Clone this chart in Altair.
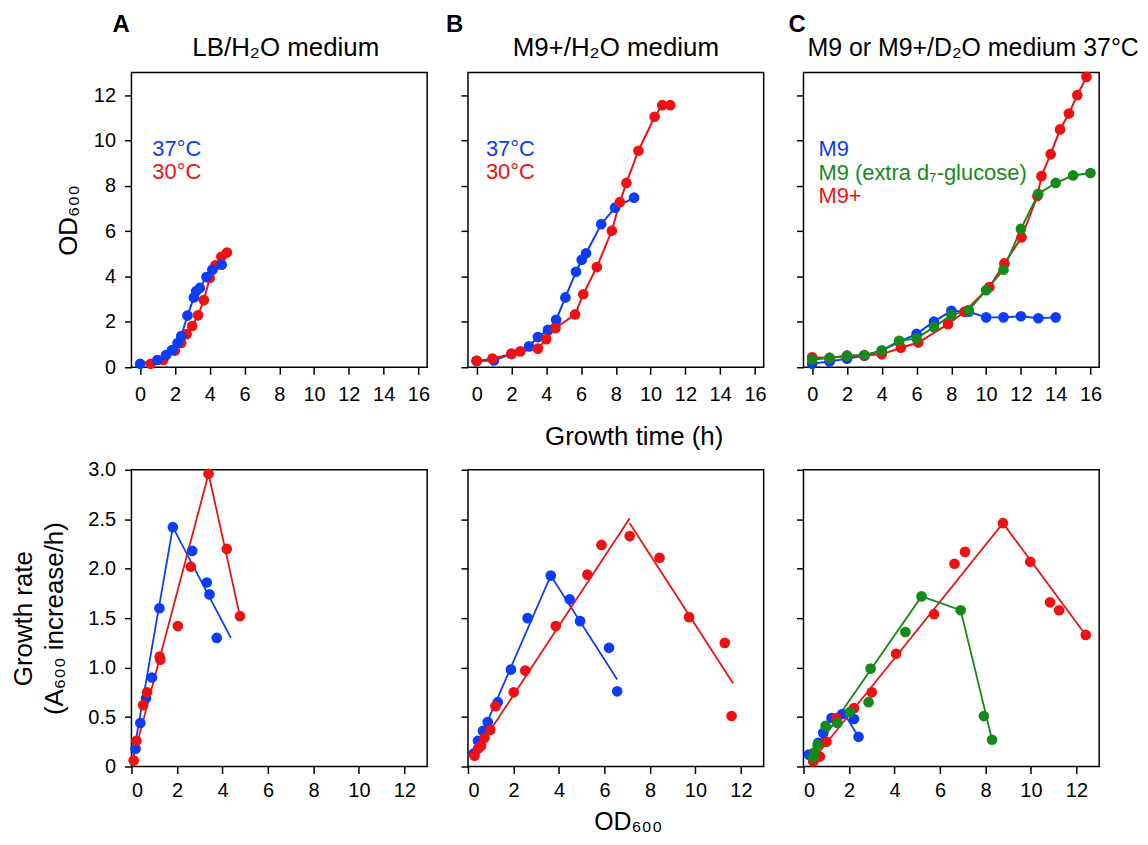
import altair as alt
import pandas as pd

FONT = "Liberation Sans"
BLUE = "#0b3cf7"
RED = "#ee1111"
GREEN = "#148a1a"

# ---------------- Top row: OD600 vs growth time (h) ----------------
a_blue_t = [0, 0.99, 1.49, 1.83, 2.15, 2.36, 2.72, 3.09, 3.22, 3.43, 3.81, 4.15, 4.69]
a_blue_od = [0.15, 0.32, 0.54, 0.76, 1.07, 1.37, 2.28, 3.08, 3.35, 3.5, 3.98, 4.30, 4.52]
a_red_t = [0.61, 1.33, 2.0, 2.36, 2.67, 2.99, 3.33, 3.66, 4.0, 4.32, 4.67, 4.99]
a_red_od = [0.15, 0.32, 0.73, 1.07, 1.46, 1.82, 2.29, 2.96, 3.94, 4.49, 4.87, 5.06]

b_blue_t = [0, 0.99, 2.0, 3.01, 3.52, 4.1, 4.57, 5.1, 5.71, 6.04, 6.29, 7.16, 7.96, 9.05]
b_blue_od = [0.28, 0.3, 0.59, 0.92, 1.33, 1.65, 2.09, 3.08, 4.21, 4.74, 5.03, 6.31, 7.04, 7.48]
b_red_t = [0, 0.91, 2.0, 2.51, 3.52, 4.0, 4.53, 5.66, 6.13, 6.91, 7.77, 8.23, 8.61, 9.3,
           10.23, 10.67, 11.13]
b_red_od = [0.28, 0.38, 0.59, 0.7, 0.82, 1.24, 1.72, 2.33, 3.22, 4.42, 6.02, 7.28, 8.13, 9.55,
            11.05, 11.56, 11.56]

c_blue_t = [0, 1, 2, 3, 4, 5, 6, 7, 8, 9, 10, 11, 12, 13, 14]
c_blue_od = [0.16, 0.25, 0.38, 0.51, 0.74, 1.12, 1.47, 2.01, 2.49, 2.45, 2.2, 2.2, 2.25, 2.16, 2.2]
c_green_t = [0, 1, 2, 3, 4, 5, 6, 7, 8, 9, 10, 11, 12, 13, 14, 15, 16]
c_green_od = [0.34, 0.41, 0.51, 0.54, 0.73, 1.17, 1.27, 1.77, 2.3, 2.52, 3.4, 4.3, 6.1, 7.65,
              8.13, 8.46, 8.57]
c_red_t = [0, 1, 2, 3, 4, 5.1, 6.1, 7.81, 8.76, 10.19, 11.05, 12.04, 12.95, 13.18, 13.71,
           14.25, 14.76, 15.24, 15.77]
c_red_od = [0.44, 0.41, 0.51, 0.52, 0.57, 0.86, 1.09, 1.9, 2.45, 3.54, 4.58, 5.73, 7.55, 8.43,
            9.4, 10.49, 11.19, 12.0, 12.81]

# ---------------- Bottom row: growth rate vs OD600 ----------------
ba_blue_x = [0.18, 0.39, 0.64, 0.9, 1.23, 1.82, 2.67, 3.31, 3.43, 3.75]
ba_blue_y = [0.18, 0.44, 0.69, 0.9, 1.6, 2.42, 2.18, 1.86, 1.74, 1.3]
ba_red_x = [0.1, 0.22, 0.51, 0.69, 1.24, 1.27, 2.04, 2.61, 3.39, 4.19, 4.77]
ba_red_y = [0.06, 0.26, 0.62, 0.75, 1.11, 1.08, 1.42, 2.02, 2.96, 2.2, 1.52]
ba_fit_blue_x = [0.07, 1.82, 4.37]
ba_fit_blue_y = [0.1, 2.42, 1.30]
ba_fit_red_x = [0.04, 3.39, 4.77]
ba_fit_red_y = [0.05, 2.96, 1.52]

bb_blue_x = [0.25, 0.44, 0.66, 0.87, 1.31, 1.89, 2.62, 3.64, 4.47, 4.93, 6.2, 6.56]
bb_blue_y = [0.13, 0.26, 0.36, 0.45, 0.65, 0.98, 1.5, 1.93, 1.69, 1.47, 1.2, 0.76]
bb_red_x = [0.29, 0.44, 0.58, 0.73, 0.98, 1.21, 2.01, 2.52, 3.86, 5.25, 5.87, 7.11, 8.42,
            9.72, 11.29, 11.59]
bb_red_y = [0.11, 0.18, 0.21, 0.29, 0.37, 0.61, 0.75, 0.97, 1.42, 1.94, 2.24, 2.33, 2.11,
            1.51, 1.25, 0.51]
bb_fit_blue_x = [0.22, 3.64, 6.56]
bb_fit_blue_y = [0.12, 1.93, 0.88]
bb_fit_red_up_x = [0.22, 7.11]
bb_fit_red_up_y = [0.1, 2.51]
bb_fit_red_down_x = [7.11, 11.66]
bb_fit_red_down_y = [2.46, 0.84]

bc_blue_x = [0.24, 0.65, 0.87, 1.23, 1.7, 2.22, 2.42]
bc_blue_y = [0.12, 0.24, 0.34, 0.49, 0.53, 0.48, 0.3]
bc_green_x = [0.43, 0.47, 0.62, 0.97, 1.49, 2.04, 2.86, 2.95, 4.48, 5.19, 6.91, 7.93, 8.29]
bc_green_y = [0.09, 0.14, 0.22, 0.41, 0.44, 0.55, 0.65, 0.99, 1.36, 1.72, 1.58, 0.51, 0.27]
bc_red_x = [0.43, 0.58, 0.72, 1.01, 1.45, 2.22, 3.0, 4.07, 5.74, 6.64, 7.1, 8.77, 9.97,
            10.84, 11.24, 12.41]
bc_red_y = [0.05, 0.09, 0.1, 0.25, 0.49, 0.59, 0.75, 1.14, 1.54, 2.05, 2.17, 2.46, 2.07,
            1.66, 1.58, 1.33]
bc_fit_blue_x = [0.24, 1.75, 2.42]
bc_fit_blue_y = [0.12, 0.55, 0.3]
bc_fit_green_x = [0.28, 5.19, 6.91, 8.29]
bc_fit_green_y = [0.09, 1.72, 1.58, 0.27]
bc_fit_red_x = [0.36, 8.77, 12.41]
bc_fit_red_y = [0.05, 2.46, 1.33]

SERIES = ["blue", "red", "green"]
COLORS = [BLUE, RED, GREEN]
color_enc = alt.Color("s:N", scale=alt.Scale(domain=SERIES, range=COLORS), legend=None)

W = 297
H_TOP = 296
H_BOT = 298
PT = 115


def frame(parts):
    rows = []
    for i, (name, xs, ys, seg) in enumerate(parts):
        for k, (xv, yv) in enumerate(zip(xs, ys)):
            rows.append({"s": name, "seg": f"{name}{seg}", "x": xv, "y": yv, "o": i * 1000 + k})
    return pd.DataFrame(rows)


def text_layer(items):
    layers = []
    for txt, x, y, color, size, weight, align, op in items:
        layers.append(
            alt.Chart(pd.DataFrame({"t": [txt]})).mark_text(
                align=align, baseline="alphabetic", font=FONT, fontSize=size,
                fontWeight=weight, color=color, opacity=op
            ).encode(x=alt.value(x), y=alt.value(y), text="t:N")
        )
    return layers


def top_panel(parts, show_y, xtitle, texts):
    df = frame(parts)
    xs = alt.Scale(domain=[-0.5, 16.5], nice=False, zero=False)
    ys = alt.Scale(domain=[0, 13], nice=False)
    xaxis = alt.Axis(values=list(range(0, 17, 2)), tickSize=7, labelPadding=10,
                     title=xtitle if xtitle else None, titlePadding=20,
                     **({"titleX": W / 2 + 18} if xtitle else {}))
    yaxis = alt.Axis(values=list(range(0, 13, 2)), tickSize=7, labelPadding=9,
                     labels=show_y, title="OD₆₀₀" if show_y else None, titlePadding=12)
    base = alt.Chart(df).encode(
        x=alt.X("x:Q", scale=xs, axis=xaxis),
        y=alt.Y("y:Q", scale=ys, axis=yaxis),
        color=color_enc,
    )
    lines = base.mark_line(strokeWidth=2).encode(detail="seg:N", order="o:Q")
    pts = base.mark_circle(size=PT, opacity=1).encode(order="o:Q")
    return alt.layer(lines, pts, *text_layer(texts)).properties(width=W, height=H_TOP)


def bot_panel(pts_parts, fit_parts, show_y, xtitle, title_dx=0):
    dpts = frame(pts_parts)
    dfit = frame(fit_parts)
    xs = alt.Scale(domain=[0, 13], nice=False)
    ys = alt.Scale(domain=[0, 3], nice=False)
    xaxis = alt.Axis(values=list(range(0, 13, 2)), tickSize=7, labelPadding=7,
                     title=xtitle if xtitle else None, titlePadding=9, titleFontSize=25,
                     **({"titleX": W / 2 + title_dx} if xtitle else {}))
    yaxis = alt.Axis(values=[0, 0.5, 1.0, 1.5, 2.0, 2.5, 3.0], tickSize=7, labelPadding=9,
                     labels=show_y,
                     labelExpr="datum.value == 0 ? '0' : format(datum.value, '.1f')",
                     title=["Growth rate", "(A₆₀₀ increase/h)"] if show_y else None,
                     titlePadding=20, titleLineHeight=32)
    fit = alt.Chart(dfit).mark_line(strokeWidth=1.8).encode(
        x=alt.X("x:Q", scale=xs, axis=xaxis),
        y=alt.Y("y:Q", scale=ys, axis=yaxis),
        color=color_enc, detail="seg:N", order="o:Q",
    )
    pts = alt.Chart(dpts).mark_circle(size=PT, opacity=1).encode(
        x=alt.X("x:Q", scale=xs), y=alt.Y("y:Q", scale=ys), color=color_enc, order="o:Q"
    )
    return alt.layer(fit, pts).properties(width=W, height=H_BOT)


TS = 26
LS = 22
LY = -41
TY = -17
pA = top_panel(
    [("red", a_red_t, a_red_od, 0), ("blue", a_blue_t, a_blue_od, 0)], True, None,
    [("A", -19, LY, "black", 24, "bold", "left", 1),
     ("LB/H₂O medium", 155, TY, "black", TS, "normal", "center", 1),
     ("37°C", 21, 84, BLUE, LS, "normal", "left", 1),
     ("30°C", 21, 107, RED, LS, "normal", "left", 1)],
)
pB = top_panel(
    [("blue", b_blue_t, b_blue_od, 0), ("red", b_red_t, b_red_od, 0)], False, "Growth time (h)",
    [("B", -22, LY, "black", 24, "bold", "left", 1),
     ("M9+/H₂O medium", W / 2, TY, "black", TS, "normal", "center", 1),
     ("37°C", 18, 84, BLUE, LS, "normal", "left", 1),
     ("30°C", 18, 107, RED, LS, "normal", "left", 1)],
)
pC = top_panel(
    [("blue", c_blue_t, c_blue_od, 0), ("red", c_red_t, c_red_od, 0),
     ("green", c_green_t, c_green_od, 0)], False, None,
    [(".", -21, LY, "white", 24, "bold", "left", 0),
     ("C", -15, LY, "black", 24, "bold", "left", 1),
     ("M9 or M9+/D₂O medium 37°C", 4, TY, "black", 25, "normal", "left", 1),
     ("M9", 15, 84, BLUE, LS, "normal", "left", 1),
     ("M9 (extra d₇-glucose)", 15, 108, GREEN, LS, "normal", "left", 1),
     ("M9+", 15, 131, RED, LS, "normal", "left", 1)],
)

qA = bot_panel(
    [("blue", ba_blue_x, ba_blue_y, 0), ("red", ba_red_x, ba_red_y, 0)],
    [("blue", ba_fit_blue_x, ba_fit_blue_y, 0), ("red", ba_fit_red_x, ba_fit_red_y, 0)],
    True, None,
)
qB = bot_panel(
    [("blue", bb_blue_x, bb_blue_y, 0), ("red", bb_red_x, bb_red_y, 0)],
    [("blue", bb_fit_blue_x, bb_fit_blue_y, 0), ("red", bb_fit_red_up_x, bb_fit_red_up_y, 0),
     ("red", bb_fit_red_down_x, bb_fit_red_down_y, 1)],
    False, "OD₆₀₀", title_dx=12,
)
qC = bot_panel(
    [("blue", bc_blue_x, bc_blue_y, 0), ("red", bc_red_x, bc_red_y, 0),
     ("green", bc_green_x, bc_green_y, 0)],
    [("blue", bc_fit_blue_x, bc_fit_blue_y, 0), ("red", bc_fit_red_x, bc_fit_red_y, 0),
     ("green", bc_fit_green_x, bc_fit_green_y, 0)],
    False, None,
)

chart = alt.concat(pA, pB, pC, qA, qB, qC, columns=3, spacing={"row": 8, "column": 14},
                   align="each").properties(
    padding={"left": 1, "top": 2, "right": 0, "bottom": 0}
).configure(
    background="white"
).configure_view(
    stroke="black", strokeWidth=1.5
).configure_axis(
    labelFont=FONT, labelFontSize=20, labelColor="black",
    titleFont=FONT, titleFontSize=26, titleFontWeight="normal", titleColor="black",
    tickColor="black", tickWidth=1.5, domain=False, grid=False,
)

chart.save("out.html", embed_options={"renderer": "svg", "actions": False})
